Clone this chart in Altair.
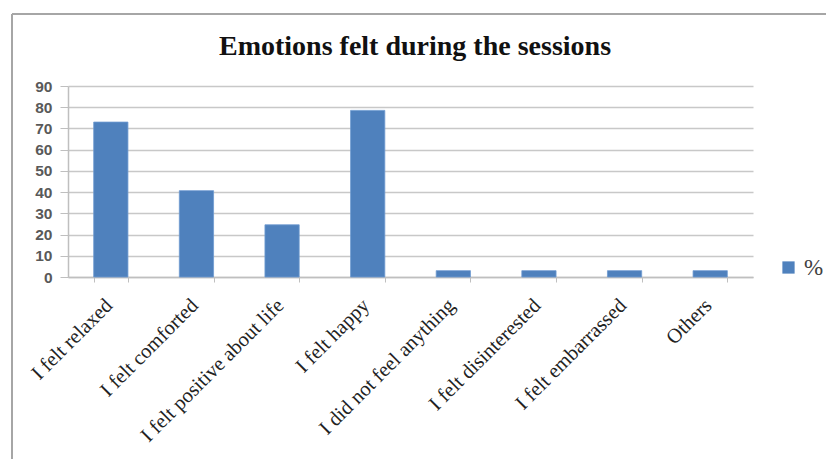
import altair as alt
import pandas as pd

categories = [
    "I felt relaxed",
    "I felt comforted",
    "I felt positive about life",
    "I felt happy",
    "I did not feel anything",
    "I felt disinterested",
    "I felt embarrassed",
    "Others",
]
values = [73, 40.7, 24.6, 78.5, 3, 3, 3, 3]
series = ["%"] * len(categories)
title_text = ["Emotions felt during the sessions"]

df = pd.DataFrame({"category": categories, "value": values, "series": series})

W, H = 685, 191
LEFT, TOP = 60, 78
CANVAS_W, CANVAS_H = 818, 451

bars = alt.Chart(df).mark_bar(color="#4f81bd", stroke="#6f9bd1", strokeWidth=0.8).encode(
    x=alt.X(
        "category:N",
        sort=categories,
        title=None,
        scale=alt.Scale(paddingInner=0.6, paddingOuter=0.3),
        axis=alt.Axis(
            labelAngle=-45,
            labelAlign="right",
            labelBaseline="top",
            labelFont="Liberation Serif",
            labelFontSize=20.5,
            labelColor="#222222",
            labelPadding=13,
            labelOffset=-9,
            tickBand="extent",
            tickSize=5,
            tickColor="#bfbfbf",
            domainColor="#bfbfbf",
            domainWidth=1.5,
            grid=False,
            labelLimit=400,
        ),
    ),
    y=alt.Y(
        "value:Q",
        title=None,
        scale=alt.Scale(domain=[0, 90]),
        axis=alt.Axis(
            values=list(range(0, 91, 10)),
            labelFont="Liberation Sans",
            labelFontSize=15.5,
            labelColor="#595959",
            labelFontWeight="bold",
            tickSize=8,
            tickColor="#bfbfbf",
            domainColor="#bfbfbf",
            domainWidth=1.5,
            gridColor="#c8c8c8",
            gridWidth=1.5,
            labelPadding=8,
        ),
    ),
    fill=alt.Fill(
        "series:N",
        scale=alt.Scale(range=["#4f81bd"]),
        legend=alt.Legend(
            title=None,
            orient="none",
            legendX=709,
            legendY=170,
            symbolType="square",
            symbolSize=150,
            symbolStrokeWidth=0,
            labelFont="Liberation Serif",
            labelFontSize=23,
            labelColor="#404040",
            labelOffset=4,
        ),
    ),
)

title = alt.Chart(pd.DataFrame({"t": title_text})).mark_text(
    font="Liberation Serif",
    fontSize=28,
    fontWeight="bold",
    color="#111111",
    align="center",
    baseline="middle",
).encode(
    text="t:N",
    x=alt.value(415 - 8 - LEFT),
    y=alt.value(47 - 8 - TOP),
)

border_left = alt.Chart(df).mark_rule(color="#a6a6a6", strokeWidth=2).encode(
    x=alt.value(12 - 8 - LEFT),
    y=alt.value(14 - 8 - TOP),
    y2=alt.value(470 - 8 - TOP),
)
border_top = alt.Chart(df).mark_rule(color="#a6a6a6", strokeWidth=2).encode(
    x=alt.value(12 - 8 - LEFT),
    x2=alt.value(840 - 8 - LEFT),
    y=alt.value(14 - 8 - TOP),
)

chart = (
    alt.layer(bars, title, border_left, border_top)
    .properties(
        width=W,
        height=H,
        autosize=alt.AutoSizeParams(type="none"),
        padding={"left": LEFT, "top": TOP, "right": CANVAS_W - LEFT - W, "bottom": CANVAS_H - TOP - H},
    )
    .configure_view(stroke=None)
)

chart.save("out.html", embed_options={"renderer": "svg", "actions": False})
